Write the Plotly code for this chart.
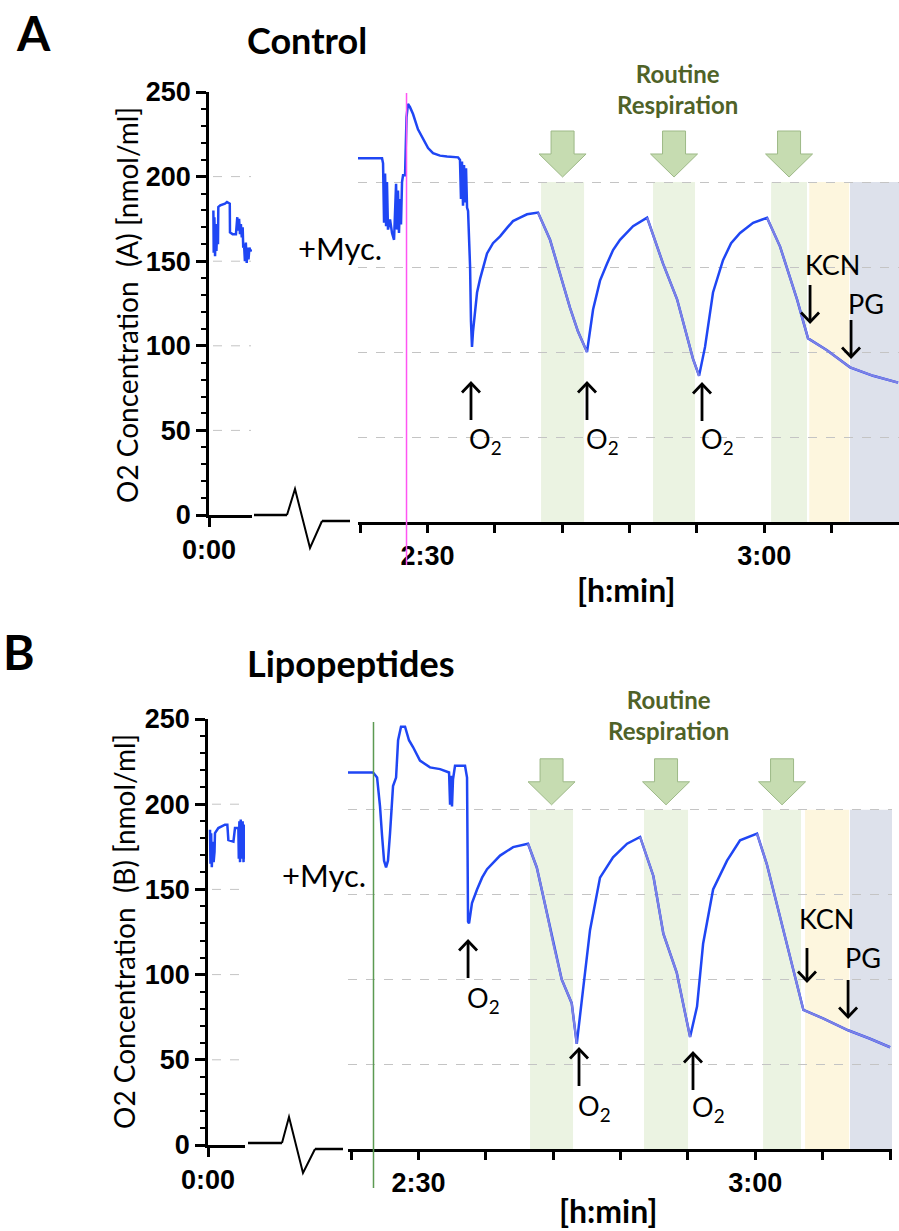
import plotly.graph_objects as go

W, H = 899, 1231

# ---------------- data ----------------
ytick_vals = [0, 50, 100, 150, 200, 250]
grid_vals = [50, 100, 150, 200]
right_tick_vals = [150, 180]
right_tick_text = ['2:30', '3:00']
right_minor_start = 144
right_minor_step = 6
left_tick_vals = [0]
left_tick_text = ['0:00']

# Panel A (Control) - segment near 0:00 (minutes)
a_left_t = [0.39, 0.42, 0.48, 0.54, 0.60, 0.66, 0.72, 0.80, 0.83, 1.00, 1.42, 1.60, 1.85, 1.87,
            2.10, 2.40, 2.52, 2.60, 2.68, 2.76, 2.84, 2.92, 3.00, 3.05, 3.12, 3.20, 3.28, 3.36,
            3.44, 3.52, 3.60, 3.70, 3.80]
a_left_v = [180, 155, 176, 153, 172, 156, 168, 160, 182, 183, 184, 185, 184, 167,
            166, 166, 176, 168, 175, 166, 172, 164, 170, 158, 160, 150, 161, 149,
            158, 151, 158, 156, 157]

# Panel A - main recording (minutes)
a_right_t = [143.82, 145.96, 146.05, 146.14, 146.23, 146.32, 146.40, 146.49, 146.67, 146.85,
             147.03, 147.21, 147.29, 147.38, 147.47, 147.56, 147.65, 147.74, 147.83, 148.01,
             148.14, 148.27, 148.45, 148.72, 149.16, 149.61, 150.06, 150.50, 151.12, 151.75,
             152.73, 152.90, 152.99, 153.08, 153.17, 153.26, 153.35, 153.44, 153.53, 153.62,
             153.80, 153.88, 153.97, 154.06, 154.24, 154.42, 154.69, 155.31, 155.84, 156.47,
             157.09, 157.62, 158.25, 158.87, 159.85, 160.92, 161.81, 162.70, 163.41, 164.21,
             164.75, 165.37, 166.00, 166.53, 167.15, 168.31, 169.56, 170.98, 172.23, 173.12,
             173.65, 174.19, 174.72, 175.43, 176.32, 177.04, 177.84, 179.00, 180.24, 181.40,
             182.91, 183.89, 185.58, 187.63, 189.68, 191.91]
a_right_v = [214, 214, 211, 176, 205, 174, 200, 172, 178, 170,
             166, 199, 172, 195, 170, 190, 175, 200, 204, 204,
             238, 246, 244, 240, 231, 225, 220, 217, 215.5, 215,
             214.5, 213, 190, 212, 186, 210, 188, 208, 185, 183,
             150, 118, 103, 112, 126, 135, 143, 158, 164, 168,
             173, 177, 179, 181, 182, 166, 146, 126, 112, 100,
             125, 142, 152, 160, 166, 174, 179, 152, 131, 109,
             96, 86, 103, 135, 154, 164, 170, 176, 179, 162,
             131, 108, 101, 91, 86, 82]
a_fall_windows = [(159.85, 164.21), (169.56, 174.19), (180.24, 192.0)]
a_myc_time = 148.14
a_o2_times = [153.88, 164.21, 174.45]
a_kcn_time = 184.07
a_pg_time = 187.72
a_routine_bands = [(160.12, 163.95), (170.09, 173.83), (180.60, 183.80)]
a_kcn_band = (184.00, 187.55)
a_pg_band = (187.63, 192.00)

# Panel B (Lipopeptides) - segment near 0:00
b_left_t = [0.18, 0.22, 0.28, 0.34, 0.42, 0.50, 0.58, 0.62, 0.92, 1.51, 1.72, 1.81, 2.26, 2.40,
            2.70, 2.74, 2.79, 2.85, 2.91, 3.00, 3.08, 3.16, 3.22, 3.29]
b_left_v = [185, 165, 183, 163, 178, 166, 172, 183, 186, 188, 188, 179, 178, 186,
            186, 168, 190, 166, 191, 168, 190, 166, 188, 168]

# Panel B - main recording
b_right_t = [143.73, 145.96, 146.32, 146.58, 146.76, 146.94, 147.12, 147.29, 147.47, 147.74,
             148.01, 148.19, 148.45, 148.81, 149.16, 149.52, 150.14, 151.03, 151.93, 152.73,
             152.82, 152.90, 152.99, 153.08, 153.26, 154.15, 154.33, 154.42, 154.51, 154.77,
             155.22, 155.67, 156.11, 157.27, 158.43, 159.76, 160.54, 161.12, 162.01, 162.76,
             163.65, 164.10, 164.66, 165.28, 166.17, 167.33, 168.58, 169.74, 170.92, 171.81,
             173.00, 174.19, 174.81, 175.35, 176.24, 177.48, 178.64, 180.15, 181.02, 182.20,
             183.39, 184.28, 186.03, 188.26, 190.22, 192.00]
b_right_v = [222, 222, 219, 202, 185, 170, 166, 170, 186, 214,
             219, 241, 249, 249, 241, 237, 229, 225, 224, 222,
             203, 220, 202, 218, 226, 226, 219, 134, 133, 145,
             153, 160, 165, 173, 178, 180, 166, 149, 121, 100,
             86, 62, 94, 129, 160, 172, 180, 184, 161, 127,
             104, 66, 84, 121, 153, 170, 182, 186, 168, 137,
             106, 82, 77, 70, 65, 60]
b_fall_windows = [(159.76, 164.10), (169.74, 174.19), (180.15, 192.2)]
b_myc_time = 146.0
b_o2_times = [154.42, 164.30, 174.45]
b_kcn_time = 184.60
b_pg_time = 188.26
b_routine_bands = [(159.94, 163.77), (170.09, 174.01), (180.69, 184.07)]
b_kcn_band = (184.43, 188.35)
b_pg_band = (188.43, 192.17)

# ---------------- styles ----------------
BLUE = '#1f46f4'
LIGHT = '#7c80e4'
GRID = '#c4c4c4'
BAND_GREEN = '#ebf3e2'
BAND_YELLOW = '#fdf6de'
BAND_GRAY = '#dde1eb'
ARROW_FILL = '#c6dcb1'
ARROW_EDGE = '#9db987'
OLIVE = '#4f6228'
TXT = 'Lato'
TICKFONT = dict(family='Liberation Sans', size=27, color='black', weight='bold')


def px(x):
    return x / W


def py(y):
    return 1 - y / H


panels = [
    dict(name='A', title='Control', ylab='O2 Concentration\u00a0\u00a0(A) [nmol/ml]',
         left_t=a_left_t, left_v=a_left_v, right_t=a_right_t, right_v=a_right_v,
         falls=a_fall_windows, myc=a_myc_time, o2=a_o2_times, kcn=a_kcn_time, pg=a_pg_time,
         bands=a_routine_bands, kband=a_kcn_band, pband=a_pg_band,
         lx=(209, 252), lr=(0, 3.83), ly=(515, 92),
         rx=(358, 899), rr=(143.82, 191.99), ry=(522, 97),
         ax=('x', 'y', 'x2', 'y2'), myc_color='#ff55f2', myc_span=(93, 565),
         letter=(33, 32), title_pos=(245, 40), ylab_pos=(127, 305),
         xlab_pos=(626, 589), myc_pos=(340, 248), rr_pos=(677, 89),
         o2_tip=[382, 382, 383], o2_len=38, o2_lab=[440, 440, 440],
         kcn_arrow=(285, 323), kcn_lab=(22, 265), pg_arrow=(320, 358), pg_lab=(15, 304),
         brk=[(254, 515), (287, 515), (295, 489), (310, 548), (322, 521), (350, 521)]),
    dict(name='B', title='Lipopeptides', ylab='O2 Concentration\u00a0\u00a0(B) [nmol/ml]',
         left_t=b_left_t, left_v=b_left_v, right_t=b_right_t, right_v=b_right_v,
         falls=b_fall_windows, myc=b_myc_time, o2=b_o2_times, kcn=b_kcn_time, pg=b_pg_time,
         bands=b_routine_bands, kband=b_kcn_band, pband=b_pg_band,
         lx=(208, 245), lr=(0, 3.29), ly=(1145, 719),
         rx=(348, 892), rr=(143.73, 192.17), ry=(1149, 725),
         ax=('x3', 'y3', 'x4', 'y4'), myc_color='#5c9a52', myc_span=(722, 1188),
         letter=(19, 651), title_pos=(245, 663), ylab_pos=(124, 932),
         xlab_pos=(608, 1210), myc_pos=(324, 875), rr_pos=(668, 715),
         o2_tip=[940, 1048, 1052], o2_len=38, o2_lab=[1000, 1107, 1108],
         kcn_arrow=(948, 982), kcn_lab=(20, 918), pg_arrow=(980, 1018), pg_lab=(15, 957),
         brk=[(248, 1143), (282, 1143), (289, 1117), (303, 1173), (315, 1149), (343, 1149)]),
]

fig = go.Figure()
layout = dict(width=W, height=H, margin=dict(l=0, r=0, t=0, b=0, pad=0, autoexpand=False),
              paper_bgcolor='white', plot_bgcolor='white', showlegend=False)
shapes = []
annotations = []


def axkey(a):
    return 'xaxis' + a[1:] if a.startswith('x') else 'yaxis' + a[1:]


def path_of(pts, close=False):
    s = 'M ' + ' L '.join(f'{px(x):.5f},{py(y):.5f}' for x, y in pts)
    return s + (' Z' if close else '')


def arrow(shps, x, tail, tip):
    # vertical black arrow with an open V head, in pixel units
    d = 1 if tail > tip else -1   # 1: pointing up
    shps.append(dict(type='path', xref='paper', yref='paper',
                     path=path_of([(x, tail), (x, tip + d * 1)]),
                     line=dict(color='black', width=2.8)))
    shps.append(dict(type='path', xref='paper', yref='paper',
                     path=path_of([(x - 9, tip + d * 10.5), (x, tip + d * 1), (x + 9, tip + d * 10.5)]),
                     line=dict(color='black', width=2.8)))


for p in panels:
    xl, yl, xr, yr = p['ax']

    def t2pix(t, p=p):
        (x0, x1), (r0, r1) = p['rx'], p['rr']
        return x0 + (t - r0) / (r1 - r0) * (x1 - x0)

    def v2pix(v, p=p):
        yb, yt = p['ry']
        return yb + (yt - yb) * v / 250.0

    def lv2pix(v, p=p):
        yb, yt = p['ly']
        return yb + (yt - yb) * v / 250.0

    # axes
    layout[axkey(xl)] = dict(domain=[px(p['lx'][0]), px(p['lx'][1])], range=list(p['lr']),
                            anchor=yl, showline=True, linewidth=2.5, linecolor='black',
                            ticks='outside', ticklen=9, tickwidth=2.5, tickcolor='black',
                            tickvals=left_tick_vals, ticktext=left_tick_text, tickfont=TICKFONT,
                            showgrid=False, zeroline=False, fixedrange=True, automargin=False)
    layout[axkey(yl)] = dict(domain=[py(p['ly'][0]), py(p['ly'][1])], range=[0, 250],
                            anchor=xl, showline=True, linewidth=2.5, linecolor='black',
                            ticks='outside', ticklen=10, tickwidth=2.5, tickcolor='black',
                            tickvals=ytick_vals, tickfont=TICKFONT, showgrid=False,
                            zeroline=False, fixedrange=True, automargin=False,
                            minor=dict(tick0=0, dtick=10, ticks='outside', ticklen=5,
                                       tickwidth=2, tickcolor='black', showgrid=False))
    layout[axkey(xr)] = dict(domain=[px(p['rx'][0]), px(p['rx'][1])], range=list(p['rr']),
                            anchor=yr, showline=True, linewidth=2.5, linecolor='black',
                            ticks='outside', ticklen=8, tickwidth=2.5, tickcolor='black',
                            tickvals=right_tick_vals, ticktext=right_tick_text, tickfont=TICKFONT,
                            minor=dict(tick0=right_minor_start, dtick=right_minor_step,
                                       ticks='outside', ticklen=8, tickwidth=2.5,
                                       tickcolor='black', showgrid=False),
                            showgrid=False, zeroline=False, fixedrange=True, automargin=False)
    layout[axkey(yr)] = dict(domain=[py(p['ry'][0]), py(p['ry'][1])], range=[0, 250],
                            anchor=xr, showline=False, showticklabels=False, ticks='',
                            tickvals=grid_vals, showgrid=True, gridcolor=GRID, griddash='dash',
                            gridwidth=1, zeroline=False, fixedrange=True, automargin=False)

    # left short dashed grid
    for g in grid_vals:
        yy = lv2pix(g)
        shapes.append(dict(type='line', xref='paper', yref='paper', x0=px(p['lx'][0] + 4),
                           x1=px(p['lx'][1] - 1), y0=py(yy), y1=py(yy),
                           line=dict(color=GRID, width=1, dash='dash'), layer='below'))

    # shaded bands
    for (a, b) in p['bands']:
        shapes.append(dict(type='rect', xref=xr, yref=yr, x0=a, x1=b, y0=0, y1=200,
                           fillcolor=BAND_GREEN, line=dict(width=0), layer='below'))
    shapes.append(dict(type='rect', xref=xr, yref=yr, x0=p['kband'][0], x1=p['kband'][1],
                       y0=0, y1=200, fillcolor=BAND_YELLOW, line=dict(width=0), layer='below'))
    shapes.append(dict(type='rect', xref=xr, yref=yr, x0=p['pband'][0], x1=p['pband'][1],
                       y0=0, y1=200, fillcolor=BAND_GRAY, line=dict(width=0), layer='below'))

    # block arrows above routine bands
    top = v2pix(200)
    for (a, b) in p['bands']:
        xc = t2pix((a + b) / 2)
        pts = [(xc - 11.5, top - 51), (xc + 11.5, top - 51), (xc + 11.5, top - 28),
               (xc + 23.5, top - 28), (xc, top - 5), (xc - 23.5, top - 28), (xc - 11.5, top - 28)]
        shapes.append(dict(type='path', xref='paper', yref='paper', path=path_of(pts, True),
                           fillcolor=ARROW_FILL, line=dict(color=ARROW_EDGE, width=1)))

    # event line (+Myc.)
    xm = t2pix(p['myc'])
    shapes.append(dict(type='line', xref='paper', yref='paper', x0=px(xm), x1=px(xm),
                       y0=py(p['myc_span'][0]), y1=py(p['myc_span'][1]),
                       line=dict(color=p['myc_color'], width=1.5)))

    # axis break decoration
    b0 = p['brk']
    shapes.append(dict(type='path', xref='paper', yref='paper', path=path_of(b0[0:2]),
                       line=dict(color='black', width=2.5)))
    shapes.append(dict(type='path', xref='paper', yref='paper', path=path_of(b0[1:5]),
                       line=dict(color='black', width=2)))
    shapes.append(dict(type='path', xref='paper', yref='paper', path=path_of(b0[4:6]),
                       line=dict(color='black', width=2.5)))

    # traces
    fig.add_trace(go.Scatter(x=p['left_t'], y=p['left_v'], xaxis=xl, yaxis=yl, mode='lines',
                             line=dict(color=BLUE, width=2.5), hoverinfo='skip'))
    fig.add_trace(go.Scatter(x=p['right_t'], y=p['right_v'], xaxis=xr, yaxis=yr, mode='lines',
                             line=dict(color=BLUE, width=2.5), hoverinfo='skip'))
    for (a, b) in p['falls']:
        tt = [t for t in p['right_t'] if a <= t <= b]
        vv = [v for t, v in zip(p['right_t'], p['right_v']) if a <= t <= b]
        fig.add_trace(go.Scatter(x=tt, y=vv, xaxis=xr, yaxis=yr, mode='lines',
                                 line=dict(color=LIGHT, width=2.2), hoverinfo='skip'))

    # texts
    lx, ly_ = p['letter']
    annotations.append(dict(text=f"<b>{p['name']}</b>", x=px(lx), y=py(ly_), xref='paper',
                            yref='paper', showarrow=False, font=dict(family=TXT, size=48, color='black'),
                            xanchor='center', yanchor='middle'))
    annotations.append(dict(text=f"<b>{p['title']}</b>", x=px(p['title_pos'][0]),
                            y=py(p['title_pos'][1]), xref='paper', yref='paper', showarrow=False,
                            font=dict(family=TXT, size=36, color='black'), xanchor='left',
                            yanchor='middle'))
    annotations.append(dict(text=p['ylab'], x=px(p['ylab_pos'][0]), y=py(p['ylab_pos'][1]),
                            xref='paper', yref='paper', showarrow=False, textangle=-90,
                            font=dict(family=TXT, size=28, color='black'), xanchor='center',
                            yanchor='middle'))
    annotations.append(dict(text='<b>[h:min]</b>', x=px(p['xlab_pos'][0]), y=py(p['xlab_pos'][1]),
                            xref='paper', yref='paper', showarrow=False,
                            font=dict(family=TXT, size=32, color='black'), xanchor='center',
                            yanchor='middle'))
    annotations.append(dict(text='+Myc.', x=px(p['myc_pos'][0]), y=py(p['myc_pos'][1]),
                            xref='paper', yref='paper', showarrow=False,
                            font=dict(family=TXT, size=31, color='black'), xanchor='center',
                            yanchor='middle'))
    annotations.append(dict(text='<b>Routine<br>Respiration</b>', x=px(p['rr_pos'][0]),
                            y=py(p['rr_pos'][1]), xref='paper', yref='paper', showarrow=False,
                            font=dict(family=TXT, size=24, color=OLIVE), xanchor='center',
                            yanchor='middle'))
    # O2 additions
    for t, tip, lab in zip(p['o2'], p['o2_tip'], p['o2_lab']):
        arrow(shapes, t2pix(t), tip + p['o2_len'], tip)
        annotations.append(dict(text='O<sub>2</sub>', x=t, y=py(lab), xref=xr, yref='paper',
                                xshift=15, showarrow=False,
                                font=dict(family=TXT, size=27, color='black'),
                                xanchor='center', yanchor='middle'))
    # KCN / PG
    for t, arr, lab, txt in [(p['kcn'], p['kcn_arrow'], p['kcn_lab'], 'KCN'),
                             (p['pg'], p['pg_arrow'], p['pg_lab'], 'PG')]:
        arrow(shapes, t2pix(t), arr[0], arr[1])
        annotations.append(dict(text=txt, x=t, y=py(lab[1]), xref=xr, yref='paper',
                                xshift=lab[0], showarrow=False,
                                font=dict(family=TXT, size=27, color='black'),
                                xanchor='center', yanchor='middle'))

layout['shapes'] = shapes
layout['annotations'] = annotations
fig.update_layout(**layout)
fig.write_html('out.html', config={'displayModeBar': False},
               post_script="document.body.style.margin='0px';document.body.style.overflow='hidden';")
